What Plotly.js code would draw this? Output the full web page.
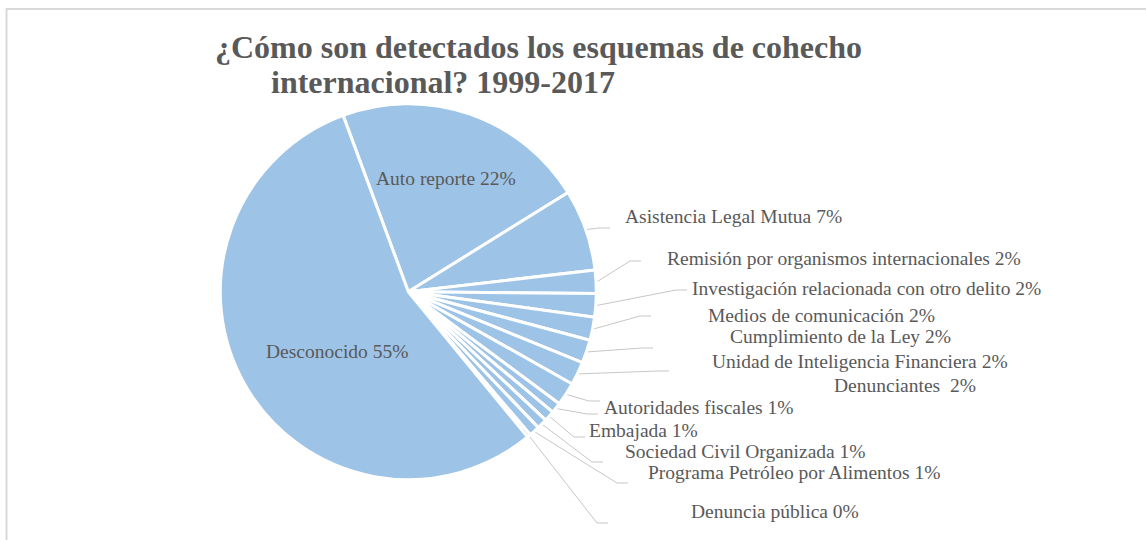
<!DOCTYPE html>
<html>
<head>
<meta charset="utf-8">
<script src="https://cdn.plot.ly/plotly-3.0.1.min.js"></script>
<style>html,body{margin:0;padding:0;background:#fff;}#chart{width:1146px;height:540px;}</style>
</head>
<body>
<div id="chart"></div>
<script>
// ---- data ----
const categories = [
  'Auto reporte',
  'Asistencia Legal Mutua',
  'Remisión por organismos internacionales',
  'Investigación relacionada con otro delito',
  'Medios de comunicación',
  'Cumplimiento de la Ley',
  'Unidad de Inteligencia Financiera',
  'Denunciantes ',
  'Autoridades fiscales',
  'Embajada',
  'Sociedad Civil Organizada',
  'Programa Petróleo por Alimentos',
  'Denuncia pública',
  'Desconocido'
];
const shares = [21.8, 7.0, 2.0, 2.0, 2.0, 2.0, 2.0, 2.0, 0.9, 0.9, 0.9, 0.9, 0.3, 55.3];
const titleLines = ['¿Cómo son detectados los esquemas de cohecho', 'internacional? 1999-2017'];

// ---- layout / geometry (pixels) ----
const W = 1146, H = 540;
const CX = 408.3, CY = 291.7, R = 188;
const ROT = -20.3;
const FONT = '"Liberation Serif", "Times New Roman", serif';
const TXT = '#595959';
const SLICE = '#9DC3E6';
const TFS = 32;
// label placement: [x, baselineY, anchor]
const labelPos = [
  [446, 185, 'center'], [624, 223, 'left'], [666, 265, 'left'], [691, 295, 'left'],
  [707, 322, 'left'], [729, 343, 'left'], [711, 368, 'left'], [833, 392, 'left'],
  [603, 414, 'left'], [588, 437, 'left'], [624, 458, 'left'], [647, 479, 'left'],
  [690, 518, 'left'], [337, 358, 'center']
];
// leader line end points (null = label sits inside slice)
const leaderEnd = [
  null, [610, 228], [641, 261], [687, 290], [651, 316], [653, 348], [669, 371],
  [600, 401], [598, 414], [585, 437], [603, 462], [628, 483], [608, 523], null
];

const px = x => x / W;
const py = y => 1 - y / H;

const total = shares.reduce((a, b) => a + b, 0);
const pctText = shares.map(v => Math.round(v / total * 100) + '%');

// mid angles of slices (clockwise from 12 o'clock), same convention as plotly
const midAngles = [];
let acc = ROT;
shares.forEach(v => {
  const span = v / total * 360;
  midAngles.push(acc + span / 2);
  acc += span;
});

const annotations = [];
const shapes = [];
const fs = 19.5;
categories.forEach((c, i) => {
  const [lx, ly, anc] = labelPos[i];
  const txt = (c + ' ' + pctText[i]).replace(/  /g, ' \u00A0');
  annotations.push({
    xref: 'paper', yref: 'paper', x: px(lx), y: py(ly - 0.338 * fs),
    xanchor: anc, yanchor: 'middle', showarrow: false, text: txt,
    font: {family: FONT, size: fs, color: TXT}, borderpad: 0
  });
  const e = leaderEnd[i];
  if (e) {
    const a = midAngles[i] * Math.PI / 180;
    const sx = CX + (R + 1) * Math.sin(a), sy = CY - (R + 1) * Math.cos(a);
    const ex = e[0], ey = e[1];
    const mx = Math.max(sx, ex - 11);
    shapes.push({
      type: 'path', xref: 'paper', yref: 'paper', layer: 'below',
      path: `M ${px(sx)} ${py(sy)} L ${px(mx)} ${py(ey)} L ${px(ex)} ${py(ey)}`,
      line: {color: '#bfbfbf', width: 0.9}
    });
  }
});

// title second line
annotations.push({
  xref: 'paper', yref: 'paper', x: px(442.5), y: py(93 - 0.338 * TFS),
  xanchor: 'center', yanchor: 'middle', showarrow: false, text: '<b>' + titleLines[1] + '</b>',
  font: {family: FONT, size: TFS, color: TXT}, borderpad: 0
});

// chart area border
shapes.push({
  type: 'rect', xref: 'paper', yref: 'paper', layer: 'above',
  x0: px(6.5), x1: 1.02, y0: -0.02, y1: py(9),
  line: {color: '#d9d9d9', width: 2}, fillcolor: 'rgba(0,0,0,0)'
});

const trace = {
  type: 'pie',
  labels: categories,
  values: shares,
  sort: false,
  direction: 'clockwise',
  rotation: ROT,
  textinfo: 'none',
  hoverinfo: 'label+percent',
  marker: {colors: categories.map(() => SLICE), line: {color: '#ffffff', width: 3}},
  domain: {x: [px(CX - R), px(CX + R)], y: [py(CY + R), py(CY - R)]},
  showlegend: false
};

const layout = {
  width: W, height: H,
  margin: {l: 0, r: 0, t: 0, b: 0},
  paper_bgcolor: '#ffffff',
  showlegend: false,
  title: {
    text: '<b>' + titleLines[0] + '</b>',
    font: {family: FONT, size: TFS, color: TXT},
    x: px(538.5), xanchor: 'center', xref: 'paper',
    y: py(58 - 0.338 * TFS), yanchor: 'middle', yref: 'paper'
  },
  annotations: annotations,
  shapes: shapes
};

Plotly.newPlot('chart', [trace], layout, {displayModeBar: false, staticPlot: true});
</script>
</body>
</html>
